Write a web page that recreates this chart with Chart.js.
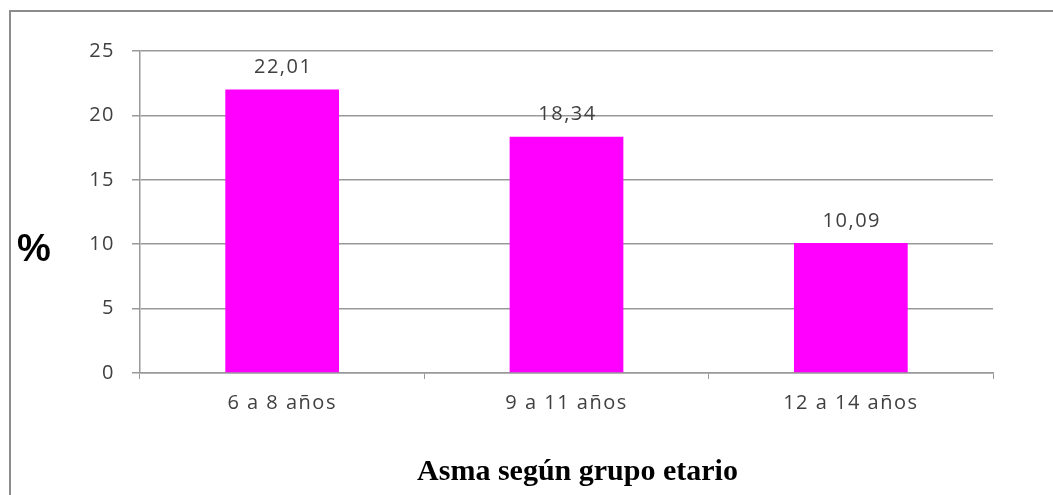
<!DOCTYPE html>
<html>
<head>
<meta charset="utf-8">
<script src="https://cdn.jsdelivr.net/npm/chart.js@4"></script>
<style>
  html, body { margin: 0; padding: 0; background: #fff; }
  #wrap { position: relative; width: 1053px; height: 495px; overflow: hidden; background: #fff; }
  #frame { position: absolute; left: 9px; top: 10px; width: 1100px; height: 600px; border: 2px solid #8c8c8c; box-sizing: border-box; }
  #chart { position: absolute; left: 0; top: 0; }
  #ylab { position: absolute; left: 17px; top: 227px; font: bold 38px "Liberation Sans", Arial, sans-serif; color: #000; }
  #xlab { position: absolute; left: 0; width: 1155px; top: 453px; text-align: center; font: bold 30px "Liberation Serif", "Times New Roman", serif; color: #000; }
</style>
</head>
<body>
<div id="wrap">
  <div id="frame"></div>
  <canvas id="chart" width="1053" height="495"></canvas>
  <div id="ylab">%</div>
  <div id="xlab">Asma según grupo etario</div>
</div>
<script>
const categories = ["6 a 8 años", "9 a 11 años", "12 a 14 años"];
const asmaPct = [22.01, 18.34, 10.09];
const yTicks = [0, 5, 10, 15, 20, 25];

const fmt = v => v.toFixed(2).replace(".", ",");
const TEXT_SPACING = "1.5px";
const TEXT_FONT = { family: "Open Sans", size: 20 };

// Slightly wider lettering for all canvas text
const spacing = {
  id: "spacing",
  beforeUpdate(chart) { chart.ctx.letterSpacing = TEXT_SPACING; },
  beforeDraw(chart) { chart.ctx.letterSpacing = TEXT_SPACING; }
};

// Writes each bar's value above it
const valueLabels = {
  id: "valueLabels",
  afterDatasetsDraw(chart) {
    const ctx = chart.ctx;
    const meta = chart.getDatasetMeta(0);
    ctx.save();
    ctx.letterSpacing = TEXT_SPACING;
    ctx.font = TEXT_FONT.size + 'px "' + TEXT_FONT.family + '", sans-serif';
    ctx.fillStyle = "#404040";
    ctx.textAlign = "center";
    ctx.textBaseline = "middle";
    meta.data.forEach((bar, i) => {
      ctx.fillText(fmt(chart.data.datasets[0].data[i]), bar.x + 1, bar.y - 22);
    });
    ctx.restore();
  }
};

new Chart(document.getElementById("chart"), {
  type: "bar",
  data: {
    labels: categories,
    datasets: [{
      data: asmaPct,
      backgroundColor: "#ff00ff",
      borderWidth: 0,
      barPercentage: 0.4,
      categoryPercentage: 1.0
    }]
  },
  options: {
    responsive: false,
    animation: false,
    layout: { padding: { left: 0, top: 51, right: 60, bottom: 0 } },
    plugins: { legend: { display: false }, tooltip: { enabled: false } },
    scales: {
      x: {
        grid: { display: true, drawOnChartArea: false, drawTicks: true, tickLength: 6, color: "#999", offset: true },
        border: { color: "#999", width: 1.5 },
        ticks: { color: "#404040", font: TEXT_FONT, padding: 12 },
        afterFit(scale) { scale.height = 122; }
      },
      y: {
        min: 0, max: 25,
        afterBuildTicks(scale) { scale.ticks = yTicks.map(v => ({ value: v })); },
        grid: { color: "#999", lineWidth: 1.5, tickLength: 8 },
        border: { color: "#999", width: 1.5 },
        ticks: { color: "#404040", font: TEXT_FONT, padding: 17 },
        afterFit(scale) { scale.width = 140; }
      }
    }
  },
  plugins: [spacing, valueLabels]
});
</script>
</body>
</html>
